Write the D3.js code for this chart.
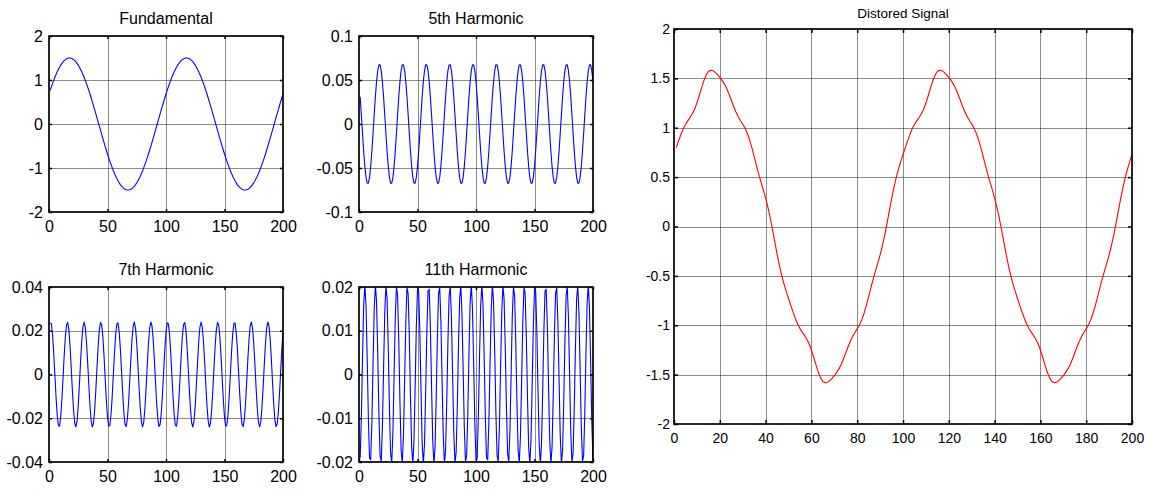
<!DOCTYPE html>
<html>
<head>
<meta charset="utf-8">
<script src="https://cdn.jsdelivr.net/npm/d3@7"></script>
<style>
  body { margin: 0; background: #fff; }
  svg { display: block; background: #fff; }
</style>
</head>
<body>
<svg id="chart" width="1176" height="491"></svg>
<script>
// values, one per sample (sample number 1..200)
var fundamental = [
  0.764, 0.843, 0.919, 0.992, 1.061, 1.125, 1.185, 1.241, 1.291, 1.337,
  1.377, 1.411, 1.440, 1.464, 1.482, 1.493, 1.499, 1.499, 1.493, 1.482,
  1.464, 1.440, 1.411, 1.377, 1.337, 1.291, 1.241, 1.185, 1.125, 1.061,
  0.992, 0.919, 0.843, 0.764, 0.681, 0.596, 0.508, 0.419, 0.327, 0.235,
  0.141, 0.047, -0.047, -0.141, -0.235, -0.327, -0.419, -0.508, -0.596, -0.681,
  -0.764, -0.843, -0.919, -0.992, -1.061, -1.125, -1.185, -1.241, -1.291, -1.337,
  -1.377, -1.411, -1.440, -1.464, -1.482, -1.493, -1.499, -1.499, -1.493, -1.482,
  -1.464, -1.440, -1.411, -1.377, -1.337, -1.291, -1.241, -1.185, -1.125, -1.061,
  -0.992, -0.919, -0.843, -0.764, -0.681, -0.596, -0.508, -0.419, -0.327, -0.235,
  -0.141, -0.047, 0.047, 0.141, 0.235, 0.327, 0.419, 0.508, 0.596, 0.681,
  0.764, 0.843, 0.919, 0.992, 1.061, 1.125, 1.185, 1.241, 1.291, 1.337,
  1.377, 1.411, 1.440, 1.464, 1.482, 1.493, 1.499, 1.499, 1.493, 1.482,
  1.464, 1.440, 1.411, 1.377, 1.337, 1.291, 1.241, 1.185, 1.125, 1.061,
  0.992, 0.919, 0.843, 0.764, 0.681, 0.596, 0.508, 0.419, 0.327, 0.235,
  0.141, 0.047, -0.047, -0.141, -0.235, -0.327, -0.419, -0.508, -0.596, -0.681,
  -0.764, -0.843, -0.919, -0.992, -1.061, -1.125, -1.185, -1.241, -1.291, -1.337,
  -1.377, -1.411, -1.440, -1.464, -1.482, -1.493, -1.499, -1.499, -1.493, -1.482,
  -1.464, -1.440, -1.411, -1.377, -1.337, -1.291, -1.241, -1.185, -1.125, -1.061,
  -0.992, -0.919, -0.843, -0.764, -0.681, -0.596, -0.508, -0.419, -0.327, -0.235,
  -0.141, -0.047, 0.047, 0.141, 0.235, 0.327, 0.419, 0.508, 0.596, 0.681
]

var harmonic5 = [
  0.0309, 0.0106, -0.0106, -0.0309, -0.0481, -0.0606, -0.0672, -0.0672, -0.0606, -0.0481,
  -0.0309, -0.0106, 0.0106, 0.0309, 0.0481, 0.0606, 0.0672, 0.0672, 0.0606, 0.0481,
  0.0309, 0.0106, -0.0106, -0.0309, -0.0481, -0.0606, -0.0672, -0.0672, -0.0606, -0.0481,
  -0.0309, -0.0106, 0.0106, 0.0309, 0.0481, 0.0606, 0.0672, 0.0672, 0.0606, 0.0481,
  0.0309, 0.0106, -0.0106, -0.0309, -0.0481, -0.0606, -0.0672, -0.0672, -0.0606, -0.0481,
  -0.0309, -0.0106, 0.0106, 0.0309, 0.0481, 0.0606, 0.0672, 0.0672, 0.0606, 0.0481,
  0.0309, 0.0106, -0.0106, -0.0309, -0.0481, -0.0606, -0.0672, -0.0672, -0.0606, -0.0481,
  -0.0309, -0.0106, 0.0106, 0.0309, 0.0481, 0.0606, 0.0672, 0.0672, 0.0606, 0.0481,
  0.0309, 0.0106, -0.0106, -0.0309, -0.0481, -0.0606, -0.0672, -0.0672, -0.0606, -0.0481,
  -0.0309, -0.0106, 0.0106, 0.0309, 0.0481, 0.0606, 0.0672, 0.0672, 0.0606, 0.0481,
  0.0309, 0.0106, -0.0106, -0.0309, -0.0481, -0.0606, -0.0672, -0.0672, -0.0606, -0.0481,
  -0.0309, -0.0106, 0.0106, 0.0309, 0.0481, 0.0606, 0.0672, 0.0672, 0.0606, 0.0481,
  0.0309, 0.0106, -0.0106, -0.0309, -0.0481, -0.0606, -0.0672, -0.0672, -0.0606, -0.0481,
  -0.0309, -0.0106, 0.0106, 0.0309, 0.0481, 0.0606, 0.0672, 0.0672, 0.0606, 0.0481,
  0.0309, 0.0106, -0.0106, -0.0309, -0.0481, -0.0606, -0.0672, -0.0672, -0.0606, -0.0481,
  -0.0309, -0.0106, 0.0106, 0.0309, 0.0481, 0.0606, 0.0672, 0.0672, 0.0606, 0.0481,
  0.0309, 0.0106, -0.0106, -0.0309, -0.0481, -0.0606, -0.0672, -0.0672, -0.0606, -0.0481,
  -0.0309, -0.0106, 0.0106, 0.0309, 0.0481, 0.0606, 0.0672, 0.0672, 0.0606, 0.0481,
  0.0309, 0.0106, -0.0106, -0.0309, -0.0481, -0.0606, -0.0672, -0.0672, -0.0606, -0.0481,
  -0.0309, -0.0106, 0.0106, 0.0309, 0.0481, 0.0606, 0.0672, 0.0672, 0.0606, 0.0481
]

var harmonic7 = [
  0.0236, 0.0232, 0.0185, 0.0102, 0, -0.0102, -0.0185, -0.0232, -0.0236, -0.0194,
  -0.0116, -0.0015, 0.0088, 0.0175, 0.0228, 0.0238, 0.0203, 0.0129, 0.0030, -0.0074,
  -0.0164, -0.0223, -0.0240, -0.0210, -0.0141, -0.0045, 0.0060, 0.0153, 0.0217, 0.0240,
  0.0217, 0.0153, 0.0060, -0.0045, -0.0141, -0.0210, -0.0240, -0.0223, -0.0164, -0.0074,
  0.0030, 0.0129, 0.0203, 0.0238, 0.0228, 0.0175, 0.0088, -0.0015, -0.0116, -0.0194,
  -0.0236, -0.0232, -0.0185, -0.0102, 0, 0.0102, 0.0185, 0.0232, 0.0236, 0.0194,
  0.0116, 0.0015, -0.0088, -0.0175, -0.0228, -0.0238, -0.0203, -0.0129, -0.0030, 0.0074,
  0.0164, 0.0223, 0.0240, 0.0210, 0.0141, 0.0045, -0.0060, -0.0153, -0.0217, -0.0240,
  -0.0217, -0.0153, -0.0060, 0.0045, 0.0141, 0.0210, 0.0240, 0.0223, 0.0164, 0.0074,
  -0.0030, -0.0129, -0.0203, -0.0238, -0.0228, -0.0175, -0.0088, 0.0015, 0.0116, 0.0194,
  0.0236, 0.0232, 0.0185, 0.0102, 0, -0.0102, -0.0185, -0.0232, -0.0236, -0.0194,
  -0.0116, -0.0015, 0.0088, 0.0175, 0.0228, 0.0238, 0.0203, 0.0129, 0.0030, -0.0074,
  -0.0164, -0.0223, -0.0240, -0.0210, -0.0141, -0.0045, 0.0060, 0.0153, 0.0217, 0.0240,
  0.0217, 0.0153, 0.0060, -0.0045, -0.0141, -0.0210, -0.0240, -0.0223, -0.0164, -0.0074,
  0.0030, 0.0129, 0.0203, 0.0238, 0.0228, 0.0175, 0.0088, -0.0015, -0.0116, -0.0194,
  -0.0236, -0.0232, -0.0185, -0.0102, 0, 0.0102, 0.0185, 0.0232, 0.0236, 0.0194,
  0.0116, 0.0015, -0.0088, -0.0175, -0.0228, -0.0238, -0.0203, -0.0129, -0.0030, 0.0074,
  0.0164, 0.0223, 0.0240, 0.0210, 0.0141, 0.0045, -0.0060, -0.0153, -0.0217, -0.0240,
  -0.0217, -0.0153, -0.0060, 0.0045, 0.0141, 0.0210, 0.0240, 0.0223, 0.0164, 0.0074,
  -0.0030, -0.0129, -0.0203, -0.0238, -0.0228, -0.0175, -0.0088, 0.0015, 0.0116, 0.0194
]

var harmonic11 = [
  -0.0191, -0.0099, 0.0038, 0.0158, 0.0205, 0.0158, 0.0038, -0.0099, -0.0191, -0.0195,
  -0.0110, 0.0026, 0.0149, 0.0205, 0.0166, 0.0051, -0.0087, -0.0185, -0.0199, -0.0120,
  0.0013, 0.0140, 0.0203, 0.0173, 0.0063, -0.0075, -0.0180, -0.0201, -0.0131, 0,
  0.0131, 0.0201, 0.0180, 0.0075, -0.0063, -0.0173, -0.0203, -0.0140, -0.0013, 0.0120,
  0.0199, 0.0185, 0.0087, -0.0051, -0.0166, -0.0205, -0.0149, -0.0026, 0.0110, 0.0195,
  0.0191, 0.0099, -0.0038, -0.0158, -0.0205, -0.0158, -0.0038, 0.0099, 0.0191, 0.0195,
  0.0110, -0.0026, -0.0149, -0.0205, -0.0166, -0.0051, 0.0087, 0.0185, 0.0199, 0.0120,
  -0.0013, -0.0140, -0.0203, -0.0173, -0.0063, 0.0075, 0.0180, 0.0201, 0.0131, 0,
  -0.0131, -0.0201, -0.0180, -0.0075, 0.0063, 0.0173, 0.0203, 0.0140, 0.0013, -0.0120,
  -0.0199, -0.0185, -0.0087, 0.0051, 0.0166, 0.0205, 0.0149, 0.0026, -0.0110, -0.0195,
  -0.0191, -0.0099, 0.0038, 0.0158, 0.0205, 0.0158, 0.0038, -0.0099, -0.0191, -0.0195,
  -0.0110, 0.0026, 0.0149, 0.0205, 0.0166, 0.0051, -0.0087, -0.0185, -0.0199, -0.0120,
  0.0013, 0.0140, 0.0203, 0.0173, 0.0063, -0.0075, -0.0180, -0.0201, -0.0131, 0,
  0.0131, 0.0201, 0.0180, 0.0075, -0.0063, -0.0173, -0.0203, -0.0140, -0.0013, 0.0120,
  0.0199, 0.0185, 0.0087, -0.0051, -0.0166, -0.0205, -0.0149, -0.0026, 0.0110, 0.0195,
  0.0191, 0.0099, -0.0038, -0.0158, -0.0205, -0.0158, -0.0038, 0.0099, 0.0191, 0.0195,
  0.0110, -0.0026, -0.0149, -0.0205, -0.0166, -0.0051, 0.0087, 0.0185, 0.0199, 0.0120,
  -0.0013, -0.0140, -0.0203, -0.0173, -0.0063, 0.0075, 0.0180, 0.0201, 0.0131, 0,
  -0.0131, -0.0201, -0.0180, -0.0075, 0.0063, 0.0173, 0.0203, 0.0140, 0.0013, -0.0120,
  -0.0199, -0.0185, -0.0087, 0.0051, 0.0166, 0.0205, 0.0149, 0.0026, -0.0110, -0.0195
]

var distorted = [
  0.799, 0.867, 0.931, 0.987, 1.033, 1.070, 1.103, 1.141, 1.188, 1.250,
  1.324, 1.402, 1.474, 1.533, 1.570, 1.583, 1.578, 1.561, 1.537, 1.511,
  1.480, 1.442, 1.397, 1.342, 1.281, 1.218, 1.162, 1.113, 1.073, 1.037,
  0.996, 0.944, 0.878, 0.798, 0.709, 0.618, 0.531, 0.450, 0.370, 0.288,
  0.195, 0.089, -0.029, -0.153, -0.277, -0.391, -0.492, -0.579, -0.657, -0.729,
  -0.799, -0.867, -0.931, -0.987, -1.033, -1.070, -1.103, -1.141, -1.188, -1.250,
  -1.324, -1.402, -1.474, -1.533, -1.570, -1.583, -1.578, -1.561, -1.537, -1.511,
  -1.480, -1.442, -1.397, -1.342, -1.281, -1.218, -1.162, -1.113, -1.073, -1.037,
  -0.996, -0.944, -0.878, -0.798, -0.709, -0.618, -0.531, -0.450, -0.370, -0.288,
  -0.195, -0.089, 0.029, 0.153, 0.277, 0.391, 0.492, 0.579, 0.657, 0.729,
  0.799, 0.867, 0.931, 0.987, 1.033, 1.070, 1.103, 1.141, 1.188, 1.250,
  1.324, 1.402, 1.474, 1.533, 1.570, 1.583, 1.578, 1.561, 1.537, 1.511,
  1.480, 1.442, 1.397, 1.342, 1.281, 1.218, 1.162, 1.113, 1.073, 1.037,
  0.996, 0.944, 0.878, 0.798, 0.709, 0.618, 0.531, 0.450, 0.370, 0.288,
  0.195, 0.089, -0.029, -0.153, -0.277, -0.391, -0.492, -0.579, -0.657, -0.729,
  -0.799, -0.867, -0.931, -0.987, -1.033, -1.070, -1.103, -1.141, -1.188, -1.250,
  -1.324, -1.402, -1.474, -1.533, -1.570, -1.583, -1.578, -1.561, -1.537, -1.511,
  -1.480, -1.442, -1.397, -1.342, -1.281, -1.218, -1.162, -1.113, -1.073, -1.037,
  -0.996, -0.944, -0.878, -0.798, -0.709, -0.618, -0.531, -0.450, -0.370, -0.288,
  -0.195, -0.089, 0.029, 0.153, 0.277, 0.391, 0.492, 0.579, 0.657, 0.729
]

var smallXTicks = [0, 50, 100, 150, 200]
var bigXTicks = [0, 20, 40, 60, 80, 100, 120, 140, 160, 180, 200]
var fundYTicks = [-2, -1, 0, 1, 2]
var h5YTicks = [-0.1, -0.05, 0, 0.05, 0.1]
var h7YTicks = [-0.04, -0.02, 0, 0.02, 0.04]
var h11YTicks = [-0.02, -0.01, 0, 0.01, 0.02]
var distYTicks = [-2, -1.5, -1, -0.5, 0, 0.5, 1, 1.5, 2]

var FONT = "'Liberation Sans', Arial, Helvetica, sans-serif"
var svg = d3.select('#chart')
// matlab plot(y) puts sample k at x = k
var sampleNo = d3.range(1, fundamental.length + 1)

var panels = [
  { id: 'fund', title: 'Fundamental', values: fundamental, color: '#0000ff',
    xTicks: smallXTicks, yTicks: fundYTicks,
    left: 49, top: 36, right: 283, bottom: 212, font: 16, titleFont: 16, tick: 3 },
  { id: 'h5', title: '5th Harmonic', values: harmonic5, color: '#0000ff',
    xTicks: smallXTicks, yTicks: h5YTicks,
    left: 359, top: 36, right: 593, bottom: 212, font: 16, titleFont: 16, tick: 3 },
  { id: 'h7', title: '7th Harmonic', values: harmonic7, color: '#0000ff',
    xTicks: smallXTicks, yTicks: h7YTicks,
    left: 49, top: 287, right: 283, bottom: 462, font: 16, titleFont: 16, tick: 3 },
  { id: 'h11', title: '11th Harmonic', values: harmonic11, color: '#0000ff',
    xTicks: smallXTicks, yTicks: h11YTicks,
    left: 359, top: 287, right: 593, bottom: 462, font: 16, titleFont: 16, tick: 3 },
  { id: 'dist', title: 'Distored Signal', values: distorted, color: '#ff0000',
    xTicks: bigXTicks, yTicks: distYTicks,
    left: 674, top: 29, right: 1132, bottom: 424, font: 14, titleFont: 13.5, tick: 4 }
]

panels.forEach(drawPanel)

function drawPanel(p) {
  var x = d3.scaleLinear().domain([0, 200]).range([p.left, p.right])
  var y = d3.scaleLinear().domain(d3.extent(p.yTicks)).range([p.bottom, p.top])
  var g = svg.append('g').attr('class', 'panel panel-' + p.id)
  var fmt = function(d) { return String(d) }

  // grid, behind everything
  var grid = g.append('g').attr('class', 'grid')
    .attr('stroke', '#000').attr('stroke-opacity', 0.45).attr('stroke-width', 1)
  grid.selectAll('line.gx')
    .data(p.xTicks.slice(1, -1))
    .enter().append('line')
    .attr('class', 'gx')
    .attr('x1', function(d) { return Math.round(x(d)) + 0.5 })
    .attr('x2', function(d) { return Math.round(x(d)) + 0.5 })
    .attr('y1', p.top).attr('y2', p.bottom)
  grid.selectAll('line.gy')
    .data(p.yTicks.slice(1, -1))
    .enter().append('line')
    .attr('class', 'gy')
    .attr('y1', function(d) { return Math.round(y(d)) + 0.5 })
    .attr('y2', function(d) { return Math.round(y(d)) + 0.5 })
    .attr('x1', p.left).attr('x2', p.right)

  // clip to the axes box, like matlab does with ylim
  g.append('clipPath').attr('id', 'clip-' + p.id)
    .append('rect')
    .attr('x', p.left).attr('y', p.top)
    .attr('width', p.right - p.left).attr('height', p.bottom - p.top)

  var line = d3.line()
    .x(function(d, i) { return x(sampleNo[i]) })
    .y(function(d) { return y(d) })

  g.append('path')
    .datum(p.values)
    .attr('clip-path', 'url(#clip-' + p.id + ')')
    .attr('fill', 'none')
    .attr('stroke', p.color)
    .attr('stroke-width', 1.1)
    .attr('stroke-linejoin', 'round')
    .attr('d', line)

  // ticks point inwards on all four sides, labels only bottom/left
  var axes = [
    { axis: d3.axisBottom(x).tickValues(p.xTicks).tickFormat(fmt).tickPadding(9),
      at: 'translate(0,' + p.bottom + ')' },
    { axis: d3.axisTop(x).tickValues(p.xTicks).tickFormat(''),
      at: 'translate(0,' + p.top + ')' },
    { axis: d3.axisLeft(y).tickValues(p.yTicks).tickFormat(fmt).tickPadding(p.id === 'dist' ? 4 : 6),
      at: 'translate(' + p.left + ',0)' },
    { axis: d3.axisRight(y).tickValues(p.yTicks).tickFormat(''),
      at: 'translate(' + p.right + ',0)' }
  ]
  axes.forEach(function(a) {
    var ag = g.append('g')
      .attr('transform', a.at)
      .call(a.axis.tickSizeInner(-p.tick).tickSizeOuter(0))
    ag.select('.domain').remove()
    ag.attr('font-family', FONT).attr('font-size', p.font)
    ag.selectAll('line').attr('stroke', '#000').attr('stroke-width', 1.5)
    ag.selectAll('text').attr('fill', '#000')
  })

  g.append('rect')
    .attr('x', p.left).attr('y', p.top)
    .attr('width', p.right - p.left).attr('height', p.bottom - p.top)
    .attr('fill', 'none')
    .attr('stroke', '#000')
    .attr('stroke-width', 1.7)

  g.append('text')
    .attr('x', (p.left + p.right) / 2)
    .attr('y', p.top - (p.id === 'dist' ? 11 : 12))
    .attr('text-anchor', 'middle')
    .attr('font-family', FONT)
    .attr('font-size', p.titleFont)
    .attr('fill', '#000')
    .text(p.title)
}
</script>
</body>
</html>
